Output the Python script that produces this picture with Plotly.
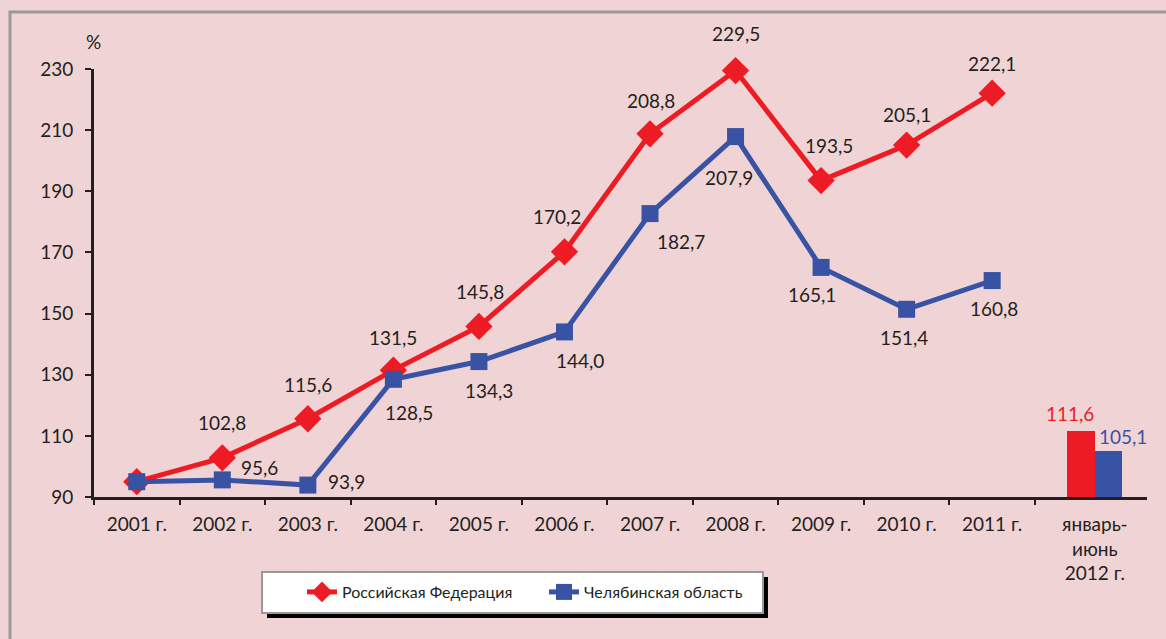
import plotly.graph_objects as go

# ---------------- data ----------------
categories = ["2001 г.", "2002 г.", "2003 г.", "2004 г.", "2005 г.", "2006 г.",
              "2007 г.", "2008 г.", "2009 г.", "2010 г.", "2011 г."]
last_category = "январь-<br>июнь<br>2012 г."
rf_values = [95.0, 102.8, 115.6, 131.5, 145.8, 170.2, 208.8, 229.5, 193.5, 205.1, 222.1]
chel_values = [95.0, 95.6, 93.9, 128.5, 134.3, 144.0, 182.7, 207.9, 165.1, 151.4, 160.8]
rf_2012 = 111.6
chel_2012 = 105.1
rf_name = "Российская Федерация"
chel_name = "Челябинская область"
y_ticks = [90, 110, 130, 150, 170, 190, 210, 230]

# ---------------- style ----------------
W, H = 1166, 639
L, R, T, B = 94, 19, 69, 142
BG = "#f0d3d4"
RED = "#ed1c24"
BLUE = "#3953a4"
TXT = "#231f20"
FRAME = "#9a9a9a"
FONT = "Lato"
FS = 19

x_pos = list(range(len(categories)))
last_pos = 11.2
bar_w = 0.32
x_range = [-0.5, 11.81]
boundaries = [i - 0.5 for i in range(len(categories) + 1)]

# label offsets (pixels): dx right, dy up
rf_dx = [0, 0, 0, 0, 1, -7, 1, 0, 8, 0, 0]
rf_dy = [0, 35, 34, 33, 35, 35, 33, 37, 35, 31, 30]
ch_dx = [0, 37, 39, 16, 10, 16, 31, -7, -9, -3, 2]
ch_dy = [0, 12, 4, -33, -29, -29, -28, -41, -27, -28, -28]

pw = W - L - R
ph = H - T - B


def px(xp):
    return (xp - L) / pw


def py(yp):
    return (H - B - yp) / ph


def fmt(v):
    return f"{v:.1f}".replace(".", ",")


fig = go.Figure()

fig.add_trace(go.Scatter(
    x=x_pos, y=rf_values, name=rf_name, mode="lines+markers",
    line=dict(color=RED, width=5),
    marker=dict(symbol="diamond", size=21, color=RED),
    cliponaxis=False, hoverinfo="skip"))
fig.add_trace(go.Scatter(
    x=x_pos, y=chel_values, name=chel_name, mode="lines+markers",
    line=dict(color=BLUE, width=5),
    marker=dict(symbol="square", size=17, color=BLUE),
    cliponaxis=False, hoverinfo="skip"))

fig.add_trace(go.Bar(
    x=[last_pos], y=[rf_2012], width=[bar_w], offset=-bar_w,
    marker=dict(color=RED, line=dict(width=0)), showlegend=False,
    xaxis="x2", hoverinfo="skip"))
fig.add_trace(go.Bar(
    x=[last_pos], y=[chel_2012], width=[bar_w], offset=0,
    marker=dict(color=BLUE, line=dict(width=0)), showlegend=False,
    xaxis="x2", hoverinfo="skip"))

annotations = []
for i, v in enumerate(rf_values):
    if i == 0:
        continue
    annotations.append(dict(x=x_pos[i], y=v, text=fmt(v), showarrow=False,
                            xshift=rf_dx[i], yshift=rf_dy[i],
                            xanchor="center", yanchor="middle",
                            font=dict(family=FONT, size=FS, color=TXT)))
for i, v in enumerate(chel_values):
    if i == 0:
        continue
    annotations.append(dict(x=x_pos[i], y=v, text=fmt(v), showarrow=False,
                            xshift=ch_dx[i], yshift=ch_dy[i],
                            xanchor="center", yanchor="middle",
                            font=dict(family=FONT, size=FS, color=TXT)))

annotations.append(dict(x=last_pos - bar_w / 2, y=rf_2012, text=fmt(rf_2012),
                        showarrow=False, xshift=-11, yshift=17,
                        xanchor="center", yanchor="middle",
                        font=dict(family=FONT, size=FS, color=RED)))
annotations.append(dict(x=last_pos + bar_w / 2, y=chel_2012, text=fmt(chel_2012),
                        showarrow=False, xshift=14, yshift=14,
                        xanchor="center", yanchor="middle",
                        font=dict(family=FONT, size=FS, color=BLUE)))
annotations.append(dict(xref="paper", yref="paper", x=px(93), y=py(41),
                        xanchor="center", yanchor="middle",
                        text="%", showarrow=False,
                        font=dict(family=FONT, size=FS, color=TXT)))

shapes = [
    # outer frame
    dict(type="path", xref="paper", yref="paper",
         path=f"M {px(10)},{py(700)} L {px(10)},{py(12)} L {px(1200)},{py(12)}",
         line=dict(color=FRAME, width=3)),
    # legend shadow
    dict(type="rect", xref="paper", yref="paper",
         x0=px(267), x1=px(768), y0=py(618), y1=py(577),
         fillcolor="black", line=dict(width=0)),
    # legend box
    dict(type="rect", xref="paper", yref="paper",
         x0=px(262), x1=px(763), y0=py(613), y1=py(572),
         fillcolor="white", line=dict(color=FRAME, width=2)),
]

fig.update_layout(
    width=W, height=H,
    margin=dict(l=L, r=R, t=T, b=B),
    paper_bgcolor=BG, plot_bgcolor=BG,
    font=dict(family=FONT, size=FS, color=TXT),
    showlegend=True,
    legend=dict(orientation="h", x=px(302), y=py(592), xanchor="left", yanchor="middle",
                bgcolor="rgba(0,0,0,0)", borderwidth=0,
                font=dict(family=FONT, size=16, color=TXT),
                entrywidth=197, entrywidthmode="pixels"),
    xaxis=dict(range=x_range, tickmode="array", tickvals=x_pos + [last_pos],
               ticktext=categories + [last_category], ticks="",
               showline=True, linecolor=TXT, linewidth=3, showgrid=False,
               zeroline=False, ticklabelstandoff=8,
               tickfont=dict(family=FONT, size=FS, color=TXT)),
    xaxis2=dict(range=x_range, overlaying="x", anchor="y", side="bottom",
                tickmode="array", tickvals=boundaries, ticks="outside",
                ticklen=7, tickwidth=2, tickcolor=TXT, showticklabels=False,
                showline=False, showgrid=False, zeroline=False),
    yaxis=dict(range=[90, 230], tickmode="array", tickvals=y_ticks,
               ticks="outside", ticklen=6, tickwidth=2, tickcolor=TXT,
               showline=True, linecolor=TXT, linewidth=3, showgrid=False,
               zeroline=False, ticklabelstandoff=8,
               tickfont=dict(family=FONT, size=FS, color=TXT)),
    annotations=annotations,
    shapes=shapes,
    bargap=0,
)

fig.write_html("out.html", config={"displayModeBar": False},
               post_script="document.body.style.margin='0';document.body.style.background='%s';" % BG)
